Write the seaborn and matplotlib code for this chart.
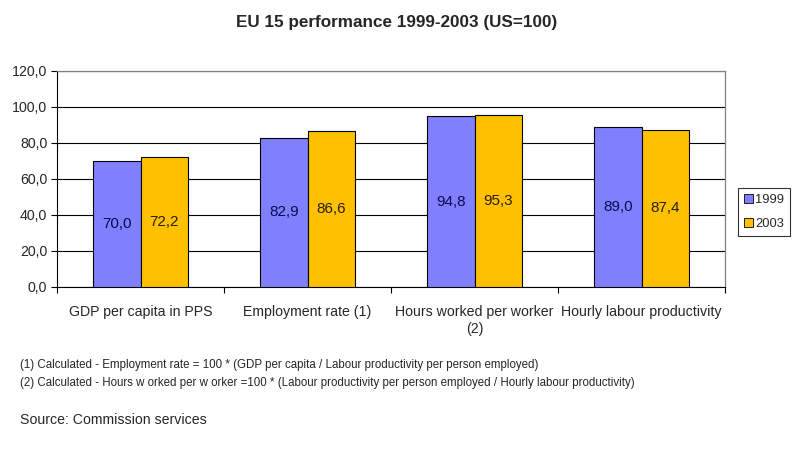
import matplotlib
matplotlib.use("Agg")
import matplotlib.pyplot as plt
import seaborn as sns
import pandas as pd
import numpy as np

categories = ["GDP per capita in PPS", "Employment rate (1)", "Hours worked per worker\n(2)", "Hourly labour productivity"]
years = ["1999", "2003"]
values_1999 = [70.0, 82.9, 94.8, 89.0]
values_2003 = [72.2, 86.6, 95.3, 87.4]
yticks = [0, 20, 40, 60, 80, 100, 120]
ytick_labels = ["0,0", "20,0", "40,0", "60,0", "80,0", "100,0", "120,0"]

sns.set_theme(style="white")
plt.rcParams['font.family'] = ['Liberation Sans', 'DejaVu Sans']

df = pd.DataFrame({
    "category": categories * 2,
    "year": [years[0]] * 4 + [years[1]] * 4,
    "value": values_1999 + values_2003,
})

fig = plt.figure(figsize=(7.93, 4.49), dpi=100)
ax = fig.add_axes([57/793, 1-287/449, (725-57)/793, (287-71)/449])

palette = {"1999": "#8080FF", "2003": "#FFC000"}
sns.barplot(data=df, x="category", y="value", hue="year", palette=palette,
            width=0.57, edgecolor="black", linewidth=0.8, ax=ax, saturation=1,
            legend=True, zorder=3)

ax.set_ylim(0, 120)
ax.set_xlim(-0.5, 3.5)
ax.set_yticks(yticks)
ax.set_yticklabels(ytick_labels, fontsize=10.2)
ax.yaxis.grid(True, color="black", linewidth=0.8, zorder=0)
ax.set_axisbelow(True)
ax.set_xlabel("")
ax.set_ylabel("")
ax.set_xticks(range(4))
ax.set_xticklabels(categories, fontsize=10.2, linespacing=1.3)
ax.tick_params(axis="x", which="major", length=0, pad=13)
ax.set_xticks([-0.5, 0.5, 1.5, 2.5, 3.5], minor=True)
ax.tick_params(axis="x", which="minor", length=4, width=0.8, color="black", direction="out", bottom=True)
ax.tick_params(axis="y", length=4, width=0.8, color="black", direction="out", left=True, pad=3)
for s in ["top", "right"]:
    ax.spines[s].set_visible(True)
    ax.spines[s].set_color("#808080")
    ax.spines[s].set_linewidth(0.9)
for s in ["left", "bottom"]:
    ax.spines[s].set_color("black")
    ax.spines[s].set_linewidth(0.8)

label_colors = ["#0a0a50", "#2a2000"]
for cont, col in zip(ax.containers, label_colors):
    labels = [f"{b.get_height():.1f}".replace(".", ",") for b in cont]
    ax.bar_label(cont, labels=labels, label_type="center", fontsize=11, color=col)

handles, labs = ax.get_legend_handles_labels()
ax.legend(handles, labs, loc="upper right", bbox_to_anchor=(790/793, 1-188/449),
          bbox_transform=fig.transFigure, frameon=True, fancybox=False,
          edgecolor="black", fontsize=9.3, handlelength=0.7, handleheight=0.7,
          handletextpad=0.2, borderpad=0.45, borderaxespad=0, labelspacing=0.95)
leg = ax.get_legend()
leg.get_frame().set_linewidth(0.8)
for h in leg.legend_handles:
    h.set_edgecolor("black")
    h.set_linewidth(0.6)

fig.text(397/793, 1-22/449, "EU 15 performance 1999-2003 (US=100)", ha="center", va="center",
         fontsize=12.3, fontweight="bold")

narrow = ['Liberation Sans Narrow', 'Liberation Sans', 'DejaVu Sans']
fig.text(20/793, 1-365/449, "(1) Calculated - Employment rate = 100 * (GDP per capita / Labour productivity per person employed)",
         ha="left", va="center", fontsize=8.3, family=narrow)
fig.text(20/793, 1-383/449, "(2) Calculated - Hours w orked per w orker =100 * (Labour productivity per person employed / Hourly labour productivity)",
         ha="left", va="center", fontsize=8.3, family=narrow)
fig.text(20/793, 1-420/449, "Source: Commission services", ha="left", va="center", fontsize=10.2)

fig.savefig("out.png", dpi=100)
